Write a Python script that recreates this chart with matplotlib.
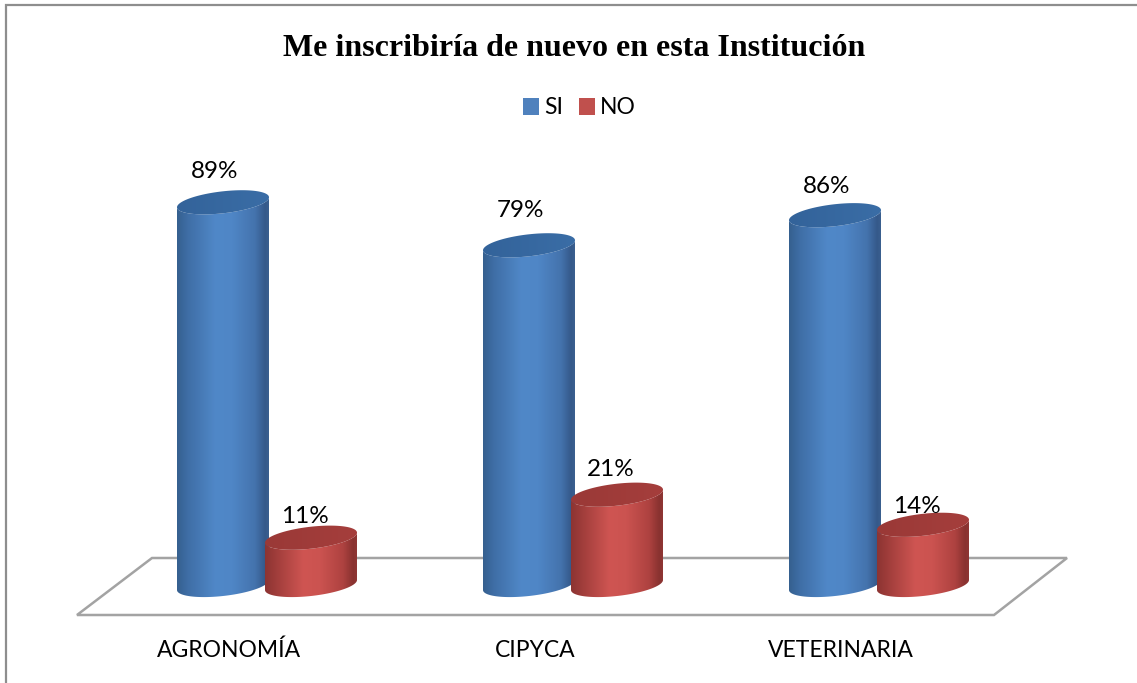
import numpy as np
import matplotlib
matplotlib.use("Agg")
import matplotlib.pyplot as plt
from matplotlib.colors import LinearSegmentedColormap
from matplotlib.lines import Line2D
from matplotlib.patches import Patch, Polygon

categories = ["AGRONOMÍA", "CIPYCA", "VETERINARIA"]
si_values = [89, 79, 86]
no_values = [11, 21, 14]
series_names = ["SI", "NO"]
title_text = "Me inscribiría de nuevo en esta Institución"

W, H = 1137, 683
BASE_PX = 585.0      # pixel row of value 0
PX_PER_PCT = 4.3
GROUP_PX = 306.0
FIRST_PX = 267.0
AX_BOTTOM_PX = 632.0
HALF_W = 46.0 / GROUP_PX
OFFSET = 44.0 / GROUP_PX
ELL_B = 11.0 / PX_PER_PCT
ELL_S = -5.0 / PX_PER_PCT


def px(x, y):
    return (x / W, 1 - y / H)


fig = plt.figure(figsize=(W / 100, H / 100), dpi=100, facecolor="white")

# partial outer frame (top and left only, as in the reference crop)
fig.add_artist(Line2D([6 / W, 6 / W, 1], [0, 1 - 5 / H, 1 - 5 / H], transform=fig.transFigure,
                      color="#8E8E8E", lw=1.6, zorder=0.2, solid_joinstyle="miter"))
# floor
fig.add_artist(Polygon([px(152, 558), px(1067, 558), px(994, 615), px(77, 615)], closed=True,
                       transform=fig.transFigure, fc="white", ec="#A3A3A3", lw=1.8, zorder=0.5))

ax = fig.add_axes([0, (H - AX_BOTTOM_PX) / H, 1, AX_BOTTOM_PX / H], zorder=2)
xlim = (-FIRST_PX / GROUP_PX, (W - FIRST_PX) / GROUP_PX)
ylim = (-(AX_BOTTOM_PX - BASE_PX) / PX_PER_PCT, BASE_PX / PX_PER_PCT)

blue_body = LinearSegmentedColormap.from_list("bb", [(0, "#35608F"), (.12, "#3F6EA6"), (.42, "#5088C8"), (.6, "#4F86C6"),
                                                     (.85, "#4473AD"), (.96, "#35598A"), (1, "#3A5F8F")])
red_body = LinearSegmentedColormap.from_list("rb", [(0, "#8C3432"), (.12, "#A03D3B"), (.42, "#CF5552"), (.6, "#CB5350"),
                                                    (.85, "#AE4240"), (.96, "#893230"), (1, "#8F3634")])
blue_top = LinearSegmentedColormap.from_list("bt", ["#33639A", "#3A6DA6"])
red_top = LinearSegmentedColormap.from_list("rt", ["#9A3937", "#A53E3C"])

grad = np.linspace(0, 1, 256).reshape(1, -1)
t = np.linspace(0, 2 * np.pi, 181)


def ellipse(cx, cy, tt):
    # sin(tt) > 0 gives the lower (front) arc on screen; the right end sits higher
    return cx + HALF_W * np.cos(tt), cy - ELL_B * np.sin(tt) - ELL_S * np.cos(tt)


def gradient_shape(xs, ys, cmap, ext, z):
    im = ax.imshow(grad, cmap=cmap, extent=ext, aspect="auto", zorder=z, interpolation="bilinear")
    clip = Polygon(np.c_[xs, ys], closed=True, transform=ax.transData, fc="none", ec="none")
    ax.add_patch(clip)
    im.set_clip_path(clip)


def cylinder(cx, value, body_cmap, top_cmap, z):
    xb, yb = ellipse(cx, 0, np.linspace(np.pi, 0, 91))
    xu, yu = ellipse(cx, value, np.linspace(0, np.pi, 91))
    ext = (cx - HALF_W, cx + HALF_W, -20, value + 20)
    gradient_shape(np.r_[xb, xu], np.r_[yb, yu], body_cmap, ext, z)
    xe, ye = ellipse(cx, value, t)
    gradient_shape(xe, ye, top_cmap, ext, z + 0.1)


si_dy = [31, 35, 29]
no_dy = [21, 25, 18]
for i, (s, n) in enumerate(zip(si_values, no_values)):
    cylinder(i - OFFSET, s, blue_body, blue_top, 2)
    cylinder(i + OFFSET, n, red_body, red_top, 3)
    ax.annotate(f"{s}%", (i - OFFSET, s), xytext=(-8 * .72, si_dy[i] * .72), textcoords="offset points",
                ha="center", va="center", fontsize=17.5, family="Lato", color="black", zorder=5)
    ax.annotate(f"{n}%", (i + OFFSET, n), xytext=(-6 * .72, no_dy[i] * .72), textcoords="offset points",
                ha="center", va="center", fontsize=17.5, family="Lato", color="black", zorder=5)

ax.set_xlim(xlim)
ax.set_ylim(ylim)

for sp in ax.spines.values():
    sp.set_visible(False)
ax.patch.set_visible(False)
ax.set_yticks([])
ax.set_xticks(np.arange(len(categories)) - 38 / GROUP_PX)
ax.set_xticklabels(categories, family="Lato", fontsize=16.5, color="black")
ax.tick_params(axis="x", length=0, pad=5.5)

fig.text(574 / W, 1 - 48 / H, title_text, ha="center", va="center", family="Liberation Serif",
         fontweight="bold", fontsize=23, color="black")

handles = [Patch(fc="#4F81BD", ec="none"), Patch(fc="#C0504D", ec="none")]
fig.legend(handles, series_names, loc="center", bbox_to_anchor=(579.5 / W, 1 - 108 / H), ncol=2, frameon=False,
           prop={"family": "Lato", "size": 16.5}, handlelength=0.7, handleheight=0.7, handletextpad=0.25,
           columnspacing=0.65, borderpad=0)

fig.savefig("out.png", dpi=100)
